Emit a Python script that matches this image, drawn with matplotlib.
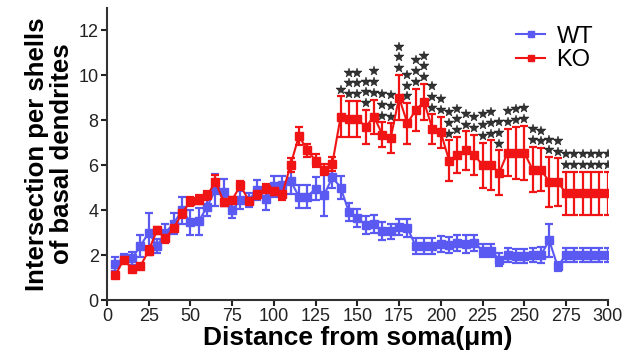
import numpy as np
import matplotlib
matplotlib.use("Agg")
import matplotlib.pyplot as plt
from matplotlib.lines import Line2D

plt.rcParams['font.family'] = ['Liberation Sans', 'DejaVu Sans']

# ---- data ----
dist = np.arange(5, 305, 5)

wt_mean = [1.6, 1.85, 1.85, 2.4, 3.0, 2.4, 3.0, 3.4, 4.0, 3.45,
           3.5, 4.15, 4.9, 4.8, 4.0, 4.45, 4.45, 4.9, 4.5, 5.05,
           5.1, 5.3, 4.6, 4.6, 4.95, 4.65, 5.45, 5.0, 3.9, 3.65,
           3.35, 3.4, 3.05, 3.05, 3.25, 3.2, 2.4, 2.4, 2.4, 2.5,
           2.45, 2.55, 2.5, 2.55, 2.2, 2.2, 1.8, 2.0, 1.95, 1.95,
           2.0, 2.0, 2.65, 1.5, 2.0, 2.0, 2.0, 2.0, 2.0, 2.0]
wt_err = [0.3, 0.2, 0.3, 0.5, 0.85, 0.3, 0.4, 0.45, 0.6, 0.55,
          0.6, 0.4, 0.7, 0.6, 0.35, 0.4, 0.3, 0.45, 0.5, 0.45,
          0.4, 0.6, 0.5, 0.5, 0.5, 0.9, 0.45, 0.5, 0.4, 0.4,
          0.4, 0.4, 0.4, 0.35, 0.35, 0.4, 0.35, 0.35, 0.35, 0.35,
          0.35, 0.35, 0.4, 0.35, 0.3, 0.3, 0.3, 0.3, 0.3, 0.3,
          0.3, 0.35, 0.75, 0.2, 0.3, 0.3, 0.3, 0.3, 0.3, 0.3]

ko_mean = [1.1, 1.8, 1.4, 1.5, 2.2, 3.1, 2.75, 3.2, 3.85, 4.4,
           4.45, 4.65, 5.25, 4.35, 4.45, 5.1, 4.4, 4.7, 4.95, 4.85,
           4.7, 6.0, 7.3, 6.65, 6.2, 5.8, 6.05, 8.15, 8.05, 8.05,
           7.7, 8.15, 7.35, 7.2, 9.0, 7.85, 8.45, 8.8, 7.6, 7.45,
           6.2, 6.45, 6.65, 6.45, 6.0, 6.0, 5.65, 6.55, 6.55, 6.55,
           5.8, 5.8, 5.25, 5.25, 4.75, 4.75, 4.75, 4.75, 4.75, 4.75]
ko_err = [0.1, 0.15, 0.1, 0.1, 0.2, 0.15, 0.2, 0.15, 0.2, 0.2,
          0.2, 0.2, 0.3, 0.15, 0.15, 0.2, 0.15, 0.2, 0.2, 0.2,
          0.25, 0.3, 0.4, 0.3, 0.3, 0.25, 0.3, 0.9, 0.8, 0.8,
          0.75, 0.75, 0.55, 0.65, 1.0, 0.9, 0.95, 0.8, 0.65, 0.7,
          0.9, 0.8, 0.85, 0.9, 1.0, 1.1, 1.0, 1.05, 1.15, 1.2,
          1.0, 0.95, 1.1, 1.05, 0.95, 0.95, 0.95, 0.95, 0.95, 0.95]

# number of significance stars above each KO point (140..300 um)
star_dist = np.arange(140, 305, 5)
star_count = [1, 3, 3, 3, 3, 3, 3, 3, 3, 3, 3, 3, 2, 3, 3, 2, 2,
              3, 3, 3, 2, 2, 2, 2, 2, 2, 2, 2, 2, 2, 2, 2, 2]

blue = '#5a5af2'
red = '#f01414'

fig = plt.figure(figsize=(6.33, 3.58), dpi=100)
ax = fig.add_axes([0.169, 0.162, 0.791, 0.817])

ax.errorbar(dist, wt_mean, yerr=wt_err, color=blue, marker='s', markersize=5.5,
            linewidth=1.5, elinewidth=1.6, capsize=3, capthick=1.6)
ax.errorbar(dist, ko_mean, yerr=ko_err, color=red, marker='s', markersize=5.5,
            linewidth=1.5, elinewidth=1.6, capsize=3, capthick=1.6)

# stars above the KO error bars
ko_top = dict(zip(dist, np.array(ko_mean) + np.array(ko_err)))
sx, sy = [], []
for d, n in zip(star_dist, star_count):
    for i in range(n):
        sx.append(d)
        sy.append(ko_top[d] + 0.3 + 0.48 * i)
ax.plot(sx, sy, linestyle='none', marker='*', markersize=7,
        markerfacecolor='#333333', markeredgecolor='#111111', markeredgewidth=0.3)

ax.set_xlim(0, 300)
ax.set_ylim(0, 13)
ax.set_xticks(np.arange(0, 301, 25))
ax.set_yticks(np.arange(0, 13, 2))
ax.tick_params(labelsize=13, width=1.5, length=4, colors='#222222', pad=2)
for s in ['top', 'right']:
    ax.spines[s].set_visible(False)
for s in ['left', 'bottom']:
    ax.spines[s].set_linewidth(1.5)
    ax.spines[s].set_color('#333333')

ax.set_xlabel('Distance from soma(\u03bcm)', fontsize=19, fontweight='bold')
ax.xaxis.set_label_coords(0.5, -0.088)
ax.set_ylabel('Intersection per shells\nof basal dendrites', fontsize=18.5,
              fontweight='bold', linespacing=1.05)
ax.yaxis.set_label_coords(-0.066, 0.5)

handles = [Line2D([], [], color=blue, marker='s', markersize=5, linewidth=1.5),
           Line2D([], [], color=red, marker='s', markersize=5, linewidth=1.5)]
ax.legend(handles, ['WT', 'KO'], loc='upper right', frameon=False, fontsize=17,
          handlelength=1.2, handletextpad=0.5, borderaxespad=0, labelspacing=0.05,
          bbox_to_anchor=(0.99, 0.97))

fig.savefig('out.png', dpi=100)
